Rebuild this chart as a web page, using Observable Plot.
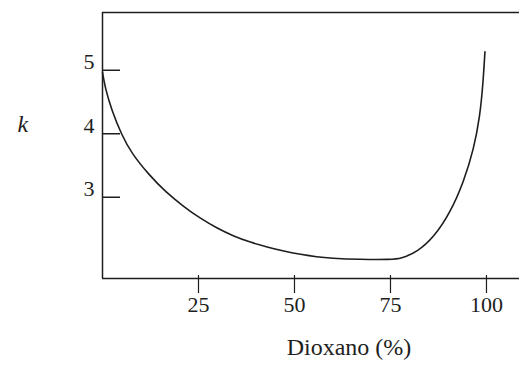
<!DOCTYPE html>
<html><head><meta charset="utf-8">
<script src="https://cdn.jsdelivr.net/npm/d3@7"></script>
<script src="https://cdn.jsdelivr.net/npm/@observablehq/plot@0.6"></script>
<style>body{margin:0;background:#fff;} svg{display:block;}</style>
</head><body><div id="chart"></div>
<script>
const dioxane = [0, 0.7, 2.4, 5.0, 7.6, 12.0, 16.5, 21.2, 25.5, 29.9, 34.2, 38.5, 42.9, 47.2, 51.6, 55.9, 59.4, 67, 75.3, 77.6, 82.0, 86.3, 90.6, 94.1, 96.7, 98.3, 99.1, 99.6];
const kValues = [4.97, 4.72, 4.37, 3.98, 3.69, 3.36, 3.08, 2.85, 2.665, 2.51, 2.385, 2.29, 2.215, 2.15, 2.10, 2.06, 2.04, 2.02, 2.02, 2.03, 2.14, 2.37, 2.76, 3.25, 3.76, 4.28, 4.79, 5.29];
const xTicks = [25, 50, 75, 100];
const yTicks = [3, 4, 5];
const xDomain = [0, 108.6];
const yDomain = [1.72, 5.91];
const xTitle = "Dioxano (%)";
const yTitle = "k";

const data = dioxane.map((x, i) => ({x, k: kValues[i]}));
const ink = "#1e1e1e";

const chart = Plot.plot({
  width: 519, height: 367,
  marginLeft: 102, marginRight: 0, marginTop: 12, marginBottom: 89,
  style: {fontFamily: "'Liberation Serif', 'Times New Roman', serif", fontSize: "22px", color: ink, background: "#fff"},
  x: {domain: xDomain},
  y: {domain: yDomain},
  marks: [
    Plot.ruleX([xDomain[0]], {stroke: ink, strokeWidth: 1.5}),
    Plot.ruleY(yDomain, {stroke: ink, strokeWidth: 1.5}),
    Plot.axisX({ticks: xTicks, tickFormat: "d", tickSize: 18, dy: -3, tickPadding: 3, label: null, stroke: ink, strokeWidth: 1.2, fontSize: 22}),
    Plot.axisY({ticks: yTicks, tickFormat: "d", tickSize: 0, tickPadding: 8, dy: -8, label: null, fontSize: 22}),
    Plot.axisY({ticks: yTicks, tickSize: -18, text: null, label: null, stroke: ink, strokeWidth: 1.5}),
    Plot.line(data, {x: "x", y: "k", curve: "basis", stroke: ink, strokeWidth: 1.6}),
    Plot.text([yTitle], {frameAnchor: "left", dx: -85, dy: -21, fontStyle: "italic", fontSize: 24, fill: ink}),
    Plot.text([xTitle], {frameAnchor: "bottom", dx: 38, dy: 76, fontSize: 24, fill: ink, style: "letter-spacing:2px"})
  ]
});
document.getElementById("chart").appendChild(chart);
</script>
</body></html>
